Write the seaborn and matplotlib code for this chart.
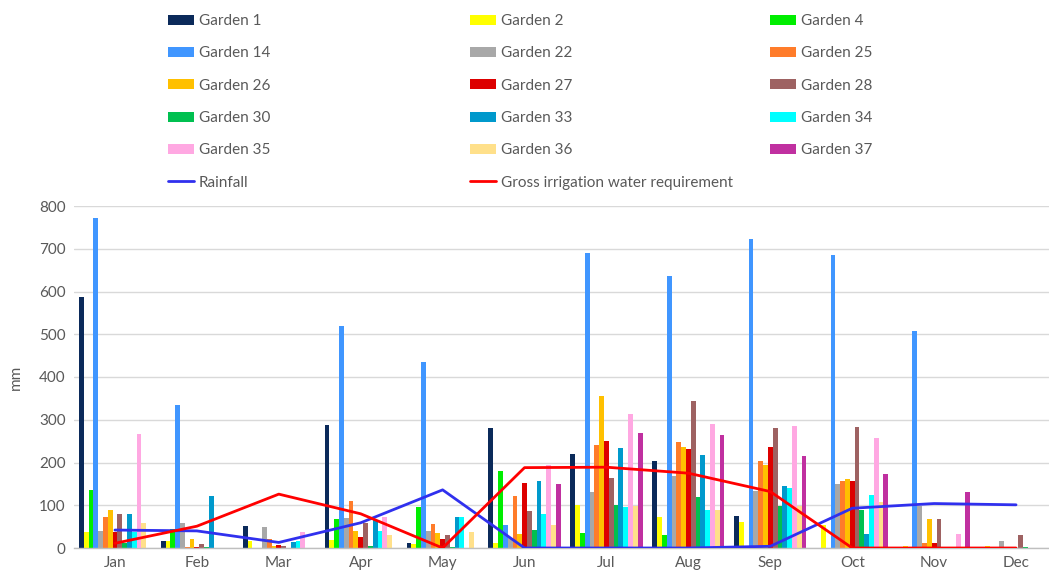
import numpy as np
import pandas as pd
import matplotlib
matplotlib.use("Agg")
import matplotlib.pyplot as plt
from matplotlib.patches import Patch
from matplotlib.lines import Line2D
import seaborn as sns

months = ["Jan", "Feb", "Mar", "Apr", "May", "Jun", "Jul", "Aug", "Sep", "Oct", "Nov", "Dec"]

garden_1 = [588, 16, 52, 288, 12, 280, 221, 204, 76, 0, 0, 0]
garden_2 = [37, 16, 16, 19, 10, 11, 100, 73, 60, 54, 5, 4]
garden_4 = [135, 44, 0, 68, 95, 179, 34, 30, 0, 0, 0, 0]
garden_14 = [773, 334, 0, 519, 435, 54, 691, 636, 723, 685, 508, 0]
garden_22 = [40, 58, 48, 71, 40, 23, 130, 168, 134, 150, 99, 16]
garden_25 = [73, 3, 21, 111, 55, 122, 241, 247, 204, 157, 11, 0]
garden_26 = [89, 20, 4, 40, 36, 32, 355, 237, 194, 161, 67, 3]
garden_27 = [37, 2, 6, 25, 20, 151, 250, 232, 237, 157, 11, 0]
garden_28 = [80, 10, 4, 59, 30, 87, 163, 345, 280, 284, 67, 30]
garden_30 = [12, 2, 1, 4, 2, 41, 100, 119, 98, 90, 3, 2]
garden_33 = [80, 122, 15, 65, 73, 157, 235, 218, 145, 33, 0, 0]
garden_34 = [37, 0, 17, 40, 73, 79, 95, 89, 140, 124, 0, 0]
garden_35 = [266, 0, 38, 72, 0, 193, 313, 290, 286, 258, 33, 0]
garden_36 = [59, 0, 0, 30, 37, 54, 98, 90, 99, 108, 0, 0]
garden_37 = [0, 0, 0, 0, 0, 150, 270, 264, 216, 173, 132, 0]

rainfall = [42, 40, 13, 59, 136, 0, 0, 0, 4, 93, 104, 101]
gross_irrigation = [11, 51, 126, 80, 0, 188, 189, 175, 132, 0, 0, 0]

garden_names = ["Garden 1", "Garden 2", "Garden 4", "Garden 14", "Garden 22", "Garden 25",
                "Garden 26", "Garden 27", "Garden 28", "Garden 30", "Garden 33", "Garden 34",
                "Garden 35", "Garden 36", "Garden 37"]
garden_values = [garden_1, garden_2, garden_4, garden_14, garden_22, garden_25, garden_26,
                 garden_27, garden_28, garden_30, garden_33, garden_34, garden_35, garden_36,
                 garden_37]
garden_colors = ["#0b2a5a", "#ffff00", "#00ee00", "#4096ff", "#a8a8a8", "#ff7c2a", "#ffc000",
                 "#dd0000", "#9e6262", "#00c050", "#0099cc", "#00ffff", "#ffa8e2", "#ffe08a",
                 "#c030a0"]

rows = []
for name, vals in zip(garden_names, garden_values):
    for m, v in zip(months, vals):
        rows.append({"month": m, "garden": name, "mm": v})
df = pd.DataFrame(rows)

sns.set_theme(style="white")
plt.rcParams["font.family"] = ["Lato", "DejaVu Sans"]
txt_color = "#595959"

fig = plt.figure(figsize=(10.49, 5.77), dpi=100)
ax = fig.add_axes([74 / 1049, 29 / 577, 983 / 1049, 342 / 577])

palette = dict(zip(garden_names, garden_colors))
sns.barplot(data=df, x="month", y="mm", hue="garden", hue_order=garden_names,
            order=months, palette=palette, width=0.88, gap=0.0, saturation=1,
            linewidth=0, legend=False, ax=ax, errorbar=None)

xpos = np.arange(len(months))
sns.lineplot(x=xpos, y=rainfall, color="#3030ee", linewidth=2.0, ax=ax, sort=False, zorder=5)
sns.lineplot(x=xpos, y=gross_irrigation, color="#ff0000", linewidth=2.0, ax=ax, sort=False, zorder=6)

ax.set_xlim(-0.5, 11.5)
ax.set_ylim(0, 800)
ax.set_yticks(range(0, 801, 100))
ax.set_xticks(xpos)
ax.set_xticklabels(months)
ax.yaxis.grid(True, color="#d9d9d9", linewidth=1.0)
ax.set_axisbelow(True)
for s in ["top", "right", "left"]:
    ax.spines[s].set_visible(False)
ax.spines["bottom"].set_color("#bfbfbf")
ax.spines["bottom"].set_linewidth(1.0)
ax.tick_params(axis="both", length=0, labelsize=11, colors=txt_color, pad=6)
ax.set_xlabel("")
ax.set_ylabel("mm", fontsize=11, color=txt_color, labelpad=12)

handles = [Patch(facecolor=c, edgecolor="none") for c in garden_colors]
labels = list(garden_names)
handles += [Line2D([0], [0], color="#3030ee", linewidth=2.0),
            Line2D([0], [0], color="#ff0000", linewidth=2.0)]
labels += ["Rainfall", "Gross irrigation water requirement"]

col_x = [168, 470, 770]
for c in range(3):
    idx = list(range(c, 17, 3))
    fig.legend([handles[i] for i in idx], [labels[i] for i in idx], ncol=1,
               loc="upper left", bbox_to_anchor=(col_x[c] / 1049, 1 - 14 / 577),
               frameon=False, borderpad=0, borderaxespad=0,
               fontsize=11, labelcolor=txt_color, handlelength=1.7, handleheight=0.65,
               handletextpad=0.3, labelspacing=1.2)

fig.savefig("out.png", dpi=100)
